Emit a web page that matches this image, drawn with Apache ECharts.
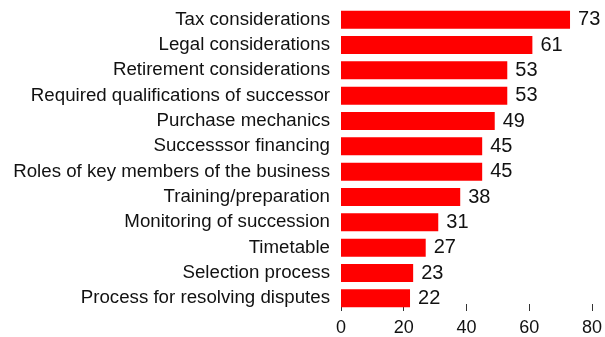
<!DOCTYPE html>
<html>
<head>
<meta charset="utf-8">
<script src="https://cdn.jsdelivr.net/npm/echarts@6/dist/echarts.min.js"></script>
<style>
  html, body { margin: 0; padding: 0; background: #ffffff; }
  #chart { width: 605px; height: 337px; }
</style>
</head>
<body>
<div id="chart"></div>
<script>
// Succession planning topics and share of respondents (%)
const categories = [
  'Tax considerations',
  'Legal considerations',
  'Retirement considerations',
  'Required qualifications of successor',
  'Purchase mechanics',
  'Successsor financing',
  'Roles of key members of the business',
  'Training/preparation',
  'Monitoring of succession',
  'Timetable',
  'Selection process',
  'Process for resolving disputes'
];
const values = [73, 61, 53, 53, 49, 45, 45, 38, 31, 27, 23, 22];
const xTicks = [0, 20, 40, 60, 80];

const FONT = '"Liberation Sans", Arial, sans-serif';
const chart = echarts.init(document.getElementById('chart'), null, { renderer: 'canvas' });

chart.setOption({
  animation: false,
  backgroundColor: '#ffffff',
  grid: { left: 341, right: 13, top: 7, bottom: 26, containLabel: false },
  xAxis: {
    type: 'value',
    min: xTicks[0],
    max: xTicks[xTicks.length - 1],
    interval: 20,
    axisLine: { show: false },
    axisTick: { show: true, inside: true, length: 7, lineStyle: { color: '#333333', width: 1 } },
    splitLine: { show: false },
    axisLabel: { color: '#111111', fontSize: 18, fontFamily: FONT, margin: 8 }
  },
  yAxis: {
    type: 'category',
    data: categories,
    inverse: true,
    axisLine: { show: false },
    axisTick: { show: false },
    axisLabel: { color: '#111111', fontSize: 18.7, fontFamily: FONT, margin: 11 }
  },
  series: [{
    type: 'bar',
    data: values,
    barCategoryGap: '29%',
    itemStyle: { color: '#ff0000' },
    label: {
      show: true,
      position: 'right',
      distance: 8,
      color: '#111111',
      fontSize: 20,
      fontFamily: FONT
    }
  }]
});
</script>
</body>
</html>
